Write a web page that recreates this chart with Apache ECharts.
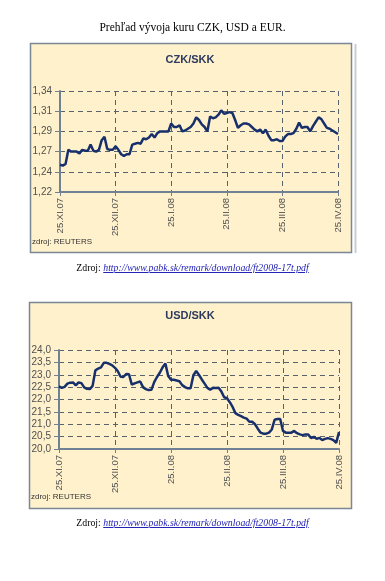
<!DOCTYPE html>
<html><head><meta charset="utf-8">
<script src="https://cdn.jsdelivr.net/npm/echarts@6/dist/echarts.min.js"></script>
<style>
html,body{margin:0;padding:0;background:#fff;width:385px;height:581px;overflow:hidden}
#c{position:absolute;left:0;top:0;width:385px;height:581px}
.t{position:absolute;left:0;width:385px;text-align:center;font-family:'Liberation Serif','Times New Roman',serif;color:#000;line-height:1}
.t a{color:#2323B5;font-style:italic;text-decoration:underline}
</style></head><body>
<div id="c"></div>
<div class="t" style="top:22px;font-size:11.5px">Prehľad vývoja kuru CZK, USD a EUR.</div>
<div class="t" style="top:263px;font-size:9.8px">Zdroj: <a>http://www.pabk.sk/remark/download/ft2008-17t.pdf</a></div>
<div class="t" style="top:518px;font-size:9.8px">Zdroj: <a>http://www.pabk.sk/remark/download/ft2008-17t.pdf</a></div>
<script>
var xTickLabels = ['25.XI.07','25.XII.07','25.I.08','25.II.08','25.III.08','25.IV.08'];
var czkTickLabels = ['1,22','1,24','1,27','1,29','1,31','1,34'];
var usdTickLabels = ['20,0','20,5','21,0','21,5','22,0','22,5','23,0','23,5','24,0'];

var czk = [1.251,1.250,1.252,1.268,1.266,1.266,1.266,1.264,1.268,1.267,
1.267,1.274,1.267,1.266,1.268,1.279,1.283,1.269,1.268,1.268,
1.272,1.268,1.263,1.261,1.263,1.263,1.274,1.275,1.276,1.275,
1.281,1.280,1.282,1.286,1.282,1.287,1.289,1.289,1.289,1.289,
1.298,1.294,1.294,1.296,1.289,1.290,1.292,1.294,1.298,1.305,
1.302,1.297,1.294,1.289,1.306,1.304,1.305,1.308,1.313,1.309,
1.310,1.311,1.310,1.302,1.293,1.296,1.298,1.298,1.297,1.294,
1.291,1.289,1.291,1.287,1.291,1.284,1.279,1.279,1.280,1.278,
1.278,1.283,1.286,1.286,1.287,1.292,1.299,1.293,1.294,1.294,
1.289,1.295,1.300,1.305,1.303,1.298,1.293,1.292,1.290,1.288,
1.286];

var usd = [22.53,22.47,22.51,22.64,22.68,22.69,22.57,22.69,22.66,22.49,
22.43,22.42,22.55,23.18,23.25,23.30,23.48,23.48,23.44,23.38,
23.28,23.14,22.92,22.91,23.03,23.02,22.60,22.65,22.69,22.73,
22.50,22.42,22.38,22.39,22.70,22.91,23.08,23.30,23.45,22.95,
22.80,22.80,22.77,22.74,22.58,22.50,22.45,22.45,22.98,23.15,
22.99,22.81,22.64,22.47,22.40,22.47,22.46,22.47,22.32,22.09,
22.05,21.89,21.70,21.45,21.38,21.33,21.27,21.23,21.10,21.10,
21.00,20.82,20.66,20.62,20.62,20.66,20.79,21.18,21.21,21.21,
20.73,20.66,20.66,20.66,20.73,20.64,20.59,20.56,20.59,20.59,
20.44,20.49,20.41,20.45,20.36,20.41,20.44,20.41,20.36,20.25,
20.68];

var FONT = 'Liberation Sans';
var axisCol = '#6F8192';
var gridCol = '#56636F';
var lineCol = '#17306B';
var xStep = 20;

function xAxisCfg(idx){
  return {
    gridIndex: idx, type:'value', min:0, max:(czk.length-1), interval:xStep,
    axisLine:{show:true, onZero:false, lineStyle:{color:axisCol, width:2}},
    axisTick:{show:true, length:4, lineStyle:{color:axisCol, width:1}},
    axisLabel:{rotate:90, margin:6, fontSize:9.5, fontFamily:FONT, color:'#505050',
      showMinLabel:true, showMaxLabel:true,
      formatter:function(v){ return xTickLabels[Math.round(v/xStep)] || ''; }},
    splitLine:{show:true, lineStyle:{type:[5,4], color:gridCol, width:1}}
  };
}
function yAxisCfg(idx, min, max, interval, labels){
  return {
    gridIndex: idx, type:'value', min:min, max:max, interval:interval,
    axisLine:{show:true, onZero:false, lineStyle:{color:axisCol, width:2}},
    axisTick:{show:true, length:5, lineStyle:{color:axisCol, width:1}},
    axisLabel:{margin:8, fontSize:10, fontFamily:FONT, color:'#505050',
      showMinLabel:true, showMaxLabel:true,
      formatter:function(v){ return labels[Math.round((v-min)/interval)] || ''; }},
    splitLine:{show:true, lineStyle:{type:[5,4], color:gridCol, width:1}}
  };
}
function txt(t, x, y, font, fill, align){
  return {type:'text', z:5, style:{text:t, x:x, y:y, font:font, fill:fill,
    align:align||'center', verticalAlign:'middle', textAlign:align||'center', textVerticalAlign:'middle'}};
}

var chart = echarts.init(document.getElementById('c'), null, {renderer:'canvas'});
chart.setOption({
  animation:false,
  backgroundColor:'#ffffff',
  graphic:[
    {type:'rect', z:-10, shape:{x:30.5, y:43.5, width:321, height:209}, style:{fill:'#FFF1CC', stroke:'#7A8896', lineWidth:1.5}},
    {type:'line', z:-10, shape:{x1:355.5, y1:44, x2:355.5, y2:253}, style:{stroke:'#C9CDD1', lineWidth:2}},
    txt('CZK/SKK', 190, 60, 'bold 11px "'+FONT+'"', '#2B3A5E'),
    txt('zdroj: REUTERS', 32, 242, '8px "'+FONT+'"', '#333', 'left'),
    {type:'rect', z:-10, shape:{x:29.5, y:302.5, width:322, height:206}, style:{fill:'#FFF1CC', stroke:'#7A8896', lineWidth:1.5}},
    txt('USD/SKK', 190, 316, 'bold 11px "'+FONT+'"', '#2B3A5E'),
    txt('zdroj: REUTERS', 31, 497, '8px "'+FONT+'"', '#333', 'left')
  ],
  grid:[
    {left:60, top:91, width:278, height:101},
    {left:59, top:350, width:280, height:99}
  ],
  xAxis:[xAxisCfg(0), xAxisCfg(1)],
  yAxis:[yAxisCfg(0, 1.22, 1.335, 0.023, czkTickLabels), yAxisCfg(1, 20, 24, 0.5, usdTickLabels)],
  series:[
    {type:'line', xAxisIndex:0, yAxisIndex:0, showSymbol:false, lineStyle:{color:lineCol, width:2.5},
      data: czk.map(function(v,i){return [i,v];})},
    {type:'line', xAxisIndex:1, yAxisIndex:1, showSymbol:false, lineStyle:{color:lineCol, width:2.5},
      data: usd.map(function(v,i){return [i,v];})}
  ]
});
</script>
</body></html>
